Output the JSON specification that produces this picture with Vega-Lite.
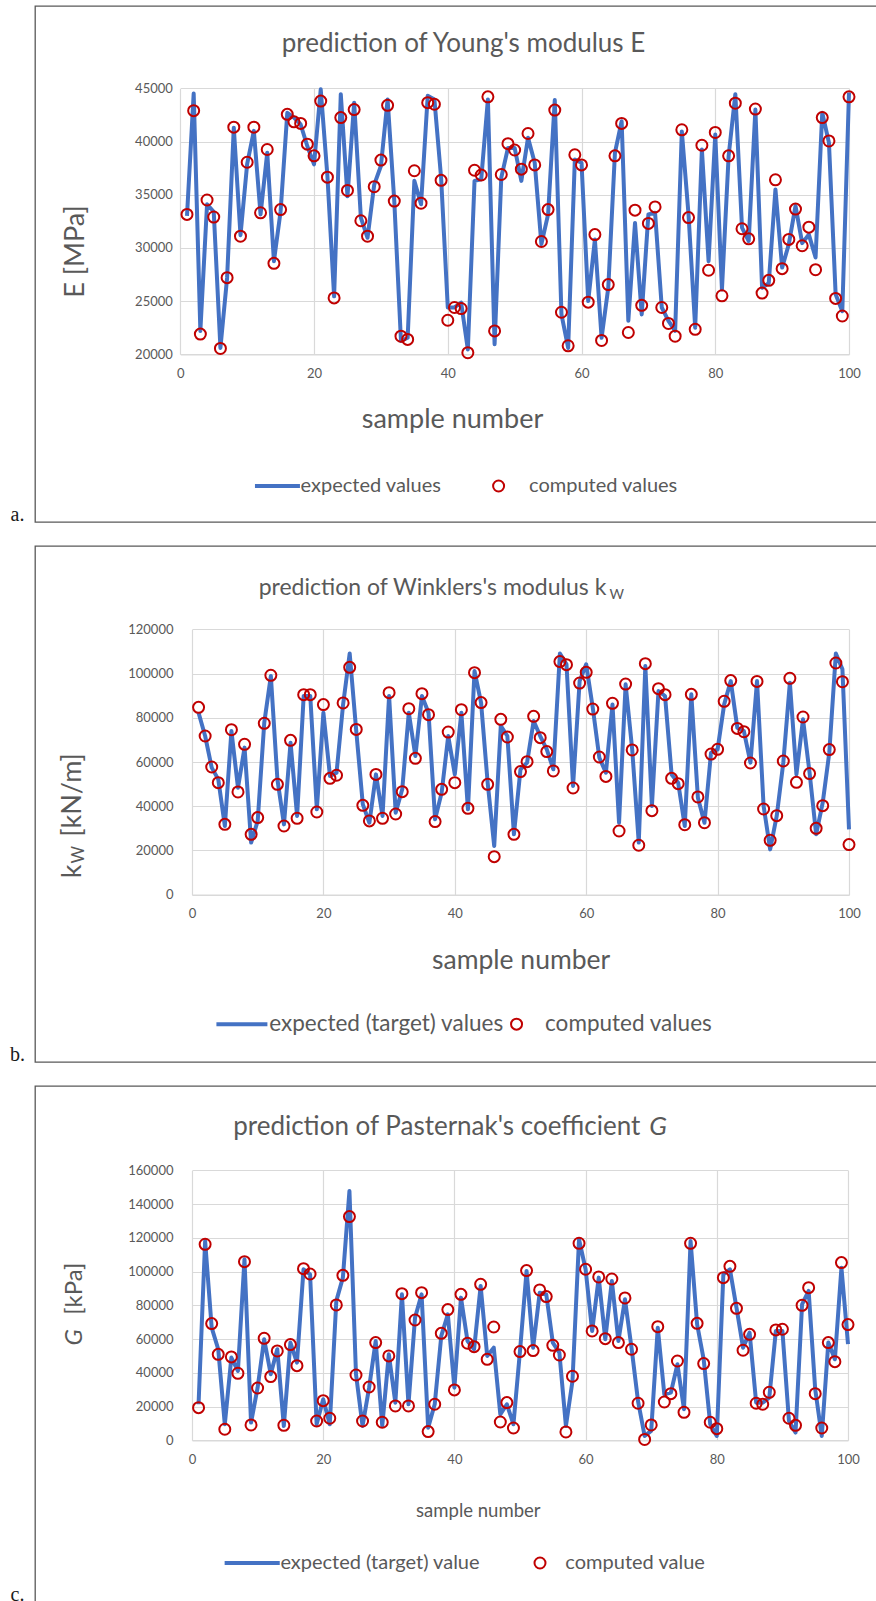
{
"$schema": "https://vega.github.io/schema/vega-lite/v6.json",
"padding": {"left": 8, "top": 5, "right": 0, "bottom": 0},
"bounds": "flush",
"spacing": 24,
"datasets": {
"a": [{"n":1,"e":33000,"c":33150},{"n":2,"e":44500,"c":42900},{"n":3,"e":22200,"c":21900},{"n":4,"e":34100,"c":34500},{"n":5,"e":33400,"c":32900},{"n":6,"e":20600,"c":20550},{"n":7,"e":27200,"c":27200},{"n":8,"e":41300,"c":41350},{"n":9,"e":31200,"c":31100},{"n":10,"e":37900,"c":38050},
{"n":11,"e":41000,"c":41350},{"n":12,"e":33150,"c":33300},{"n":13,"e":38950,"c":39250},{"n":14,"e":28750,"c":28550},{"n":15,"e":33450,"c":33600},{"n":16,"e":42700,"c":42550},{"n":17,"e":42250,"c":41850},{"n":18,"e":41600,"c":41700},{"n":19,"e":39550,"c":39750},{"n":20,"e":37850,"c":38650},
{"n":21,"e":44900,"c":43800},{"n":22,"e":36750,"c":36650},{"n":23,"e":25450,"c":25300},{"n":24,"e":44450,"c":42250},{"n":25,"e":34850,"c":35400},{"n":26,"e":43650,"c":43000},{"n":27,"e":32850,"c":32550},{"n":28,"e":30950,"c":31100},{"n":29,"e":35950,"c":35750},{"n":30,"e":37700,"c":38250},
{"n":31,"e":43950,"c":43400},{"n":32,"e":34400,"c":34400},{"n":33,"e":21250,"c":21700},{"n":34,"e":21550,"c":21400},{"n":35,"e":36300,"c":37250},{"n":36,"e":34100,"c":34200},{"n":37,"e":44300,"c":43650},{"n":38,"e":43950,"c":43500},{"n":39,"e":36600,"c":36350},{"n":40,"e":24400,"c":23200},
{"n":41,"e":24400,"c":24400},{"n":42,"e":24850,"c":24300},{"n":43,"e":20450,"c":20150},{"n":44,"e":36300,"c":37300},{"n":45,"e":36450,"c":36850},{"n":46,"e":43950,"c":44200},{"n":47,"e":20950,"c":22200},{"n":48,"e":36600,"c":36900},{"n":49,"e":39400,"c":39800},{"n":50,"e":39400,"c":39200},
{"n":51,"e":36300,"c":37400},{"n":52,"e":40350,"c":40750},{"n":53,"e":38000,"c":37800},{"n":54,"e":30350,"c":30600},{"n":55,"e":33150,"c":33600},{"n":56,"e":43900,"c":42950},{"n":57,"e":23750,"c":23950},{"n":58,"e":20600,"c":20800},{"n":59,"e":38300,"c":38750},{"n":60,"e":38000,"c":37800},
{"n":61,"e":25000,"c":24900},{"n":62,"e":30800,"c":31250},{"n":63,"e":21550,"c":21300},{"n":64,"e":26250,"c":26550},{"n":65,"e":38950,"c":38650},{"n":66,"e":41900,"c":41700},{"n":67,"e":23150,"c":22050},{"n":68,"e":32350,"c":33550},{"n":69,"e":23750,"c":24600},{"n":70,"e":33150,"c":32300},
{"n":71,"e":33300,"c":33850},{"n":72,"e":24400,"c":24400},{"n":73,"e":23150,"c":22900},{"n":74,"e":22200,"c":21700},{"n":75,"e":40950,"c":41100},{"n":76,"e":33150,"c":32850},{"n":77,"e":22500,"c":22350},{"n":78,"e":39250,"c":39650},{"n":79,"e":28750,"c":27900},{"n":80,"e":40650,"c":40850},
{"n":81,"e":26100,"c":25500},{"n":82,"e":38650,"c":38650},{"n":83,"e":44450,"c":43600},{"n":84,"e":31900,"c":31800},{"n":85,"e":30650,"c":30850},{"n":86,"e":43000,"c":43050},{"n":87,"e":26250,"c":25750},{"n":88,"e":26700,"c":26950},{"n":89,"e":35500,"c":36400},{"n":90,"e":28150,"c":28050},
{"n":91,"e":30350,"c":30800},{"n":92,"e":33950,"c":33650},{"n":93,"e":30450,"c":30200},{"n":94,"e":31250,"c":31950},{"n":95,"e":29100,"c":27950},{"n":96,"e":42700,"c":42250},{"n":97,"e":39900,"c":40050},{"n":98,"e":25650,"c":25250},{"n":99,"e":24050,"c":23600},{"n":100,"e":44600,"c":44200}],
"b": [{"n":1,"e":82300,"c":84700},{"n":2,"e":71750,"c":71750},{"n":3,"e":57450,"c":57750},{"n":4,"e":52150,"c":50650},{"n":5,"e":31050,"c":31800},{"n":6,"e":74000,"c":74600},{"n":7,"e":48400,"c":46450},{"n":8,"e":66500,"c":68000},{"n":9,"e":23550,"c":27300},{"n":10,"e":33350,"c":34850},
{"n":11,"e":77800,"c":77500},{"n":12,"e":98900,"c":99200},{"n":13,"e":52150,"c":49900},{"n":14,"e":31800,"c":31050},{"n":15,"e":68750,"c":69800},{"n":16,"e":35600,"c":34550},{"n":17,"e":89850,"c":90450},{"n":18,"e":89850,"c":90450},{"n":19,"e":38600,"c":37400},{"n":20,"e":82300,"c":85950},
{"n":21,"e":53650,"c":52600},{"n":22,"e":55150,"c":54000},{"n":23,"e":86050,"c":86700},{"n":24,"e":109100,"c":102800},{"n":25,"e":74000,"c":74750},{"n":26,"e":40850,"c":40400},{"n":27,"e":32550,"c":33350},{"n":28,"e":54400,"c":54400},{"n":29,"e":35600,"c":34550},{"n":30,"e":89850,"c":91350},
{"n":31,"e":37100,"c":36500},{"n":32,"e":47650,"c":46600},{"n":33,"e":82300,"c":84100},{"n":34,"e":62700,"c":61650},{"n":35,"e":89850,"c":90900},{"n":36,"e":82300,"c":81400},{"n":37,"e":34100,"c":33050},{"n":38,"e":46150,"c":47650},{"n":39,"e":71750,"c":73550},{"n":40,"e":54400,"c":50650},
{"n":41,"e":82300,"c":83650},{"n":42,"e":38600,"c":39050},{"n":43,"e":101150,"c":100400},{"n":44,"e":86800,"c":86850},{"n":45,"e":50650,"c":49900},{"n":46,"e":22050,"c":17200},{"n":47,"e":76300,"c":79300},{"n":48,"e":71750,"c":71300},{"n":49,"e":27300,"c":27300},{"n":50,"e":56700,"c":55650},
{"n":51,"e":59700,"c":60150},{"n":52,"e":78550,"c":80650},{"n":53,"e":71750,"c":71000},{"n":54,"e":65750,"c":64700},{"n":55,"e":56700,"c":55950},{"n":56,"e":109100,"c":105400},{"n":57,"e":104150,"c":104000},{"n":58,"e":49150,"c":48250},{"n":59,"e":96600,"c":95700},{"n":60,"e":104150,"c":100550},
{"n":61,"e":84550,"c":83950},{"n":62,"e":61950,"c":62250},{"n":63,"e":55150,"c":53500},{"n":64,"e":86050,"c":86550},{"n":65,"e":32550,"c":28800},{"n":66,"e":95100,"c":95250},{"n":67,"e":65700,"c":65450},{"n":68,"e":23550,"c":22350},{"n":69,"e":103400,"c":104450},{"n":70,"e":40100,"c":38000},
{"n":71,"e":92100,"c":93150},{"n":72,"e":89850,"c":90450},{"n":73,"e":54400,"c":52600},{"n":74,"e":50650,"c":50200},{"n":75,"e":31050,"c":31650},{"n":76,"e":90600,"c":90600},{"n":77,"e":43850,"c":44200},{"n":78,"e":32550,"c":32550},{"n":79,"e":64200,"c":63600},{"n":80,"e":65700,"c":65750},
{"n":81,"e":86050,"c":87450},{"n":82,"e":96600,"c":96800},{"n":83,"e":75550,"c":75200},{"n":84,"e":74000,"c":73700},{"n":85,"e":59700,"c":59550},{"n":86,"e":96600,"c":96450},{"n":87,"e":40100,"c":38750},{"n":88,"e":20500,"c":24600},{"n":89,"e":35600,"c":35750},{"n":90,"e":59700,"c":60450},
{"n":91,"e":95850,"c":97850},{"n":92,"e":54400,"c":50800},{"n":93,"e":79300,"c":80350},{"n":94,"e":55150,"c":54750},{"n":95,"e":27300,"c":30000},{"n":96,"e":41600,"c":40250},{"n":97,"e":64200,"c":65600},{"n":98,"e":109100,"c":104750},{"n":99,"e":101900,"c":96300},{"n":100,"e":29500,"c":22650}],
"c": [{"n":1,"e":21350,"c":19350},{"n":2,"e":118100,"c":116150},{"n":3,"e":66750,"c":69150},{"n":4,"e":53950,"c":50950},{"n":5,"e":9500,"c":6550},{"n":6,"e":49000,"c":49400},{"n":7,"e":41100,"c":39700},{"n":8,"e":107250,"c":105850},{"n":9,"e":10500,"c":9100},{"n":10,"e":31200,"c":31000},
{"n":11,"e":59850,"c":60450},{"n":12,"e":39150,"c":37750},{"n":13,"e":53950,"c":52950},{"n":14,"e":8500,"c":8900},{"n":15,"e":57900,"c":56700},{"n":16,"e":46050,"c":44250},{"n":17,"e":101350,"c":101700},{"n":18,"e":98350,"c":98550},{"n":19,"e":9500,"c":11450},{"n":20,"e":24300,"c":23500},
{"n":21,"e":9500,"c":13050},{"n":22,"e":82600,"c":80200},{"n":23,"e":96400,"c":97750},{"n":24,"e":147750,"c":132550},{"n":25,"e":39150,"c":38700},{"n":26,"e":8500,"c":11450},{"n":27,"e":31200,"c":31600},{"n":28,"e":58850,"c":57900},{"n":29,"e":8500,"c":10700},{"n":30,"e":50950,"c":50000},
{"n":31,"e":22300,"c":20350},{"n":32,"e":86500,"c":86900},{"n":33,"e":21350,"c":20350},{"n":34,"e":72700,"c":71300},{"n":35,"e":86500,"c":87500},{"n":36,"e":7500,"c":5150},{"n":37,"e":21350,"c":21350},{"n":38,"e":61850,"c":63400},{"n":39,"e":74650,"c":77450},{"n":40,"e":31200,"c":29850},
{"n":41,"e":84550,"c":86500},{"n":42,"e":58850,"c":57500},{"n":43,"e":53950,"c":55500},{"n":44,"e":91450,"c":92450},{"n":45,"e":50000,"c":48000},{"n":46,"e":54900,"c":67150},{"n":47,"e":15400,"c":10850},{"n":48,"e":21350,"c":22350},{"n":49,"e":9500,"c":7300},{"n":50,"e":52950,"c":52550},
{"n":51,"e":100350,"c":100550},{"n":52,"e":54900,"c":53150},{"n":53,"e":87500,"c":89100},{"n":54,"e":86500,"c":85150},{"n":55,"e":57900,"c":56300},{"n":56,"e":51950,"c":50550},{"n":57,"e":8500,"c":4950},{"n":58,"e":35150,"c":37950},{"n":59,"e":119100,"c":116750},{"n":60,"e":101350,"c":101350},
{"n":61,"e":64800,"c":64800},{"n":62,"e":96400,"c":96800},{"n":63,"e":59850,"c":60250},{"n":64,"e":94400,"c":95600},{"n":65,"e":58850,"c":57900},{"n":66,"e":83550,"c":84350},{"n":67,"e":54900,"c":53950},{"n":68,"e":23000,"c":21950},{"n":69,"e":2600,"c":500},{"n":70,"e":5550,"c":9100},
{"n":71,"e":66750,"c":67350},{"n":72,"e":27250,"c":22700},{"n":73,"e":28250,"c":27650},{"n":74,"e":45050,"c":47000},{"n":75,"e":18400,"c":16600},{"n":76,"e":118100,"c":116750},{"n":77,"e":68750,"c":69300},{"n":78,"e":48000,"c":45450},{"n":79,"e":9500,"c":10700},{"n":80,"e":2600,"c":6900},
{"n":81,"e":98350,"c":96400},{"n":82,"e":101350,"c":103100},{"n":83,"e":78600,"c":78200},{"n":84,"e":54900,"c":53350},{"n":85,"e":63800,"c":62800},{"n":86,"e":22300,"c":21950},{"n":87,"e":22300,"c":21350},{"n":88,"e":25300,"c":28450},{"n":89,"e":64800,"c":65400},{"n":90,"e":64800,"c":65800},
{"n":91,"e":11500,"c":13050},{"n":92,"e":4550,"c":8900},{"n":93,"e":80600,"c":80000},{"n":94,"e":88500,"c":90450},{"n":95,"e":30200,"c":27650},{"n":96,"e":2600,"c":7300},{"n":97,"e":57900,"c":57900},{"n":98,"e":48000,"c":46600},{"n":99,"e":102300,"c":105300},{"n":100,"e":57000,"c":68550}]
},
"vconcat": [
{
 "width": 842, "height": 516,
 "data": {"name": "a"},
 "title": {"text": "prediction of Young's modulus E", "frame": "group", "anchor": "start", "align": "center", "dx": 428.5, "offset": -51, "fontSize": 26},
 "layer": [
  {"mark": {"type": "line", "strokeWidth": 4, "strokeJoin": "round"},
   "encoding": {
    "x": {"field": "n", "type": "quantitative", "scale": {"domain": [0, 100], "range": [145.3, 814], "nice": false, "zero": false},
      "axis": {"orient": "bottom", "offset": -167.7, "values": [0, 20, 40, 60, 80, 100], "grid": false, "domain": true, "labelPadding": 13, "title": "sample number", "titleFontSize": 27, "titleX": 417, "titleY": 65, "titleAlign": "center", "titleBaseline": "middle"}},
    "y": {"field": "e", "type": "quantitative", "scale": {"domain": [20000, 45000], "range": [348.3, 82.3], "nice": false, "zero": false},
      "axis": {"orient": "left", "offset": -145.3, "values": [20000, 25000, 30000, 35000, 40000, 45000], "format": "d", "grid": false, "domain": false, "labelPadding": 8, "title": "E [MPa]", "titleFontSize": 27, "titleX": -105, "titleY": 245, "titleAngle": -90, "titleAlign": "center", "titleBaseline": "middle"}},
    "color": {"datum": "expected values", "scale": {"domain": ["expected values", "computed values"], "range": ["#4472C4", "#C00000"]},
      "legend": {"title": null, "orient": "none", "legendX": 245.6, "legendY": 470, "direction": "horizontal", "labelOffset": 0, "columnPadding": 47, "padding": 0, "labelLimit": 600, "symbolSize": 121, "labelExpr": "datum.value === 'computed values' ? '\u200b\u00a0\u00a0\u00a0\u00a0' + datum.label : datum.label"}}
   }},
  {"mark": {"type": "point", "filled": false, "opacity": 1, "size": 121},
   "encoding": {
    "x": {"field": "n", "type": "quantitative",
      "axis": {"orient": "top", "offset": 0, "values": [0, 20, 40, 60, 80, 100], "grid": true, "labels": false, "domain": false, "ticks": false, "title": "a.", "titleFont": "Liberation Serif", "titleFontSize": 20, "titleColor": "#1a1a1a", "titleX": -18, "titleY": 514, "titleAlign": "center", "titleBaseline": "alphabetic", "titleAngle": 0}},
    "y": {"field": "c", "type": "quantitative",
      "axis": {"orient": "left", "offset": 0, "values": [20000, 25000, 30000, 35000, 40000, 45000], "grid": true, "labels": false, "domain": false, "ticks": false, "title": null}},
    "color": {"datum": "computed values", "legend": {"title": null, "orient": "none", "legendX": 245.6, "legendY": 470, "direction": "horizontal", "labelOffset": 0, "columnPadding": 47, "padding": 0, "labelLimit": 600, "symbolSize": 121, "labelExpr": "datum.value === 'computed values' ? '\u200b\u00a0\u00a0\u00a0\u00a0' + datum.label : datum.label"}},
    "shape": {"datum": "computed values", "scale": {"domain": ["expected values", "computed values"], "range": ["M-6.48,0H1.7", "circle"]},
      "legend": {"title": null, "orient": "none", "legendX": 245.6, "legendY": 470, "direction": "horizontal", "labelOffset": 0, "columnPadding": 47, "padding": 0, "labelLimit": 600, "symbolSize": 121, "labelExpr": "datum.value === 'computed values' ? '\u200b\u00a0\u00a0\u00a0\u00a0' + datum.label : datum.label"}},
    "strokeWidth": {"datum": "computed values", "scale": {"type": "ordinal", "domain": ["expected values", "computed values"], "range": [4, 2]},
      "legend": {"title": null, "orient": "none", "legendX": 245.6, "legendY": 470, "direction": "horizontal", "labelOffset": 0, "columnPadding": 47, "padding": 0, "labelLimit": 600, "symbolSize": 121, "labelExpr": "datum.value === 'computed values' ? '\u200b\u00a0\u00a0\u00a0\u00a0' + datum.label : datum.label"}}
   }}
 ],
 "resolve": {"axis": {"x": "independent", "y": "independent"}}
},
{
 "width": 842, "height": 516,
 "data": {"name": "b"},
 "title": {"text": "prediction of Winklers's modulus k\u00a0\u00a0\u00a0\u200b", "subtitle": "W", "subtitleFontSize": 14, "subtitlePadding": -12, "frame": "group", "anchor": "start", "align": "right", "dx": 589, "offset": -55.5, "fontSize": 23},
 "layer": [
  {"mark": {"type": "line", "strokeWidth": 4, "strokeJoin": "round"},
   "encoding": {
    "x": {"field": "n", "type": "quantitative", "scale": {"domain": [0, 100], "range": [157, 814], "nice": false, "zero": false},
      "axis": {"orient": "bottom", "offset": -167.3, "values": [0, 20, 40, 60, 80, 100], "grid": false, "domain": true, "labelPadding": 13, "title": "sample number", "titleFontSize": 26.5, "titleX": 485.6, "titleY": 66, "titleAlign": "center", "titleBaseline": "middle"}},
    "y": {"field": "e", "type": "quantitative", "scale": {"domain": [0, 120000], "range": [348.7, 83.3], "nice": false, "zero": false},
      "axis": {"orient": "left", "offset": -157, "values": [0, 20000, 40000, 60000, 80000, 100000, 120000], "format": "d", "grid": false, "domain": false, "labelPadding": 19, "title": "k\u00a0\u00a0\u00a0\u00a0[kN/m]", "titleFontSize": 27, "titleX": -120, "titleY": 331.7, "titleAngle": -90, "titleAlign": "left", "titleBaseline": "middle"}},
    "color": {"datum": "expected (target) values", "scale": {"domain": ["expected (target) values", "computed values"], "range": ["#4472C4", "#C00000"]},
      "legend": {"title": null, "orient": "none", "legendX": 211.8, "legendY": 466.8, "direction": "horizontal", "labelOffset": 0, "columnPadding": 1.5, "padding": 0, "labelLimit": 600, "symbolSize": 121, "labelFontSize": 22.5, "labelExpr": "datum.value === 'computed values' ? '\u200b\u00a0\u00a0\u00a0' + datum.label : datum.label"}}
   }},
  {"mark": {"type": "point", "filled": false, "opacity": 1, "size": 121},
   "encoding": {
    "x": {"field": "n", "type": "quantitative",
      "axis": {"orient": "top", "offset": 0, "values": [0, 20, 40, 60, 80, 100], "grid": true, "labels": false, "domain": false, "ticks": false, "title": "b.", "titleFont": "Liberation Serif", "titleFontSize": 20, "titleColor": "#1a1a1a", "titleX": -18, "titleY": 514, "titleAlign": "center", "titleBaseline": "alphabetic", "titleAngle": 0}},
    "y": {"field": "c", "type": "quantitative",
      "axis": {"orient": "left", "offset": 0, "values": [0, 20000, 40000, 60000, 80000, 100000, 120000], "grid": true, "labels": false, "domain": false, "ticks": false, "title": "W", "titleFontSize": 17, "titleX": 43, "titleY": 317, "titleAngle": -90, "titleAlign": "left", "titleBaseline": "middle"}},
    "color": {"datum": "computed values", "legend": {"title": null, "orient": "none", "legendX": 211.8, "legendY": 466.8, "direction": "horizontal", "labelOffset": 0, "columnPadding": 1.5, "padding": 0, "labelLimit": 600, "symbolSize": 121, "labelFontSize": 22.5, "labelExpr": "datum.value === 'computed values' ? '\u200b\u00a0\u00a0\u00a0' + datum.label : datum.label"}},
    "shape": {"datum": "computed values", "scale": {"domain": ["expected (target) values", "computed values"], "range": ["M-7.57,0H1.7", "circle"]},
      "legend": {"title": null, "orient": "none", "legendX": 211.8, "legendY": 466.8, "direction": "horizontal", "labelOffset": 0, "columnPadding": 1.5, "padding": 0, "labelLimit": 600, "symbolSize": 121, "labelFontSize": 22.5, "labelExpr": "datum.value === 'computed values' ? '\u200b\u00a0\u00a0\u00a0' + datum.label : datum.label"}},
    "strokeWidth": {"datum": "computed values", "scale": {"type": "ordinal", "domain": ["expected (target) values", "computed values"], "range": [4, 2]},
      "legend": {"title": null, "orient": "none", "legendX": 211.8, "legendY": 466.8, "direction": "horizontal", "labelOffset": 0, "columnPadding": 1.5, "padding": 0, "labelLimit": 600, "symbolSize": 121, "labelFontSize": 22.5, "labelExpr": "datum.value === 'computed values' ? '\u200b\u00a0\u00a0\u00a0' + datum.label : datum.label"}}
   }}
 ],
 "resolve": {"axis": {"x": "independent", "y": "independent"}}
},
{
 "width": 842, "height": 516,
 "data": {"name": "c"},
 "title": {"text": "prediction of Pasternak's coefficient\u00a0\u00a0\u00a0\u00a0\u200b", "subtitle": "G", "subtitleFontSize": 26, "subtitleFontStyle": "italic", "subtitlePadding": -26, "frame": "group", "anchor": "start", "align": "right", "dx": 632, "offset": -53.5, "fontSize": 26},
 "layer": [
  {"mark": {"type": "line", "strokeWidth": 4, "strokeJoin": "round"},
   "encoding": {
    "x": {"field": "n", "type": "quantitative", "scale": {"domain": [0, 100], "range": [157, 813], "nice": false, "zero": false},
      "axis": {"orient": "bottom", "offset": -161.7, "values": [0, 20, 40, 60, 80, 100], "grid": false, "domain": true, "labelPadding": 13, "title": "sample number", "titleFontSize": 18.5, "titleX": 442.8, "titleY": 69.7, "titleAlign": "center", "titleBaseline": "middle"}},
    "y": {"field": "e", "type": "quantitative", "scale": {"domain": [0, 160000], "range": [354.3, 84.3], "nice": false, "zero": false},
      "axis": {"orient": "left", "offset": -157, "values": [0, 20000, 40000, 60000, 80000, 100000, 120000, 140000, 160000], "format": "d", "grid": false, "domain": false, "labelPadding": 19, "title": "\u200b\u00a0\u00a0\u00a0\u00a0\u00a0[kPa]", "titleFontSize": 24, "titleX": -117.6, "titleY": 259, "titleAngle": -90, "titleAlign": "left", "titleBaseline": "middle"}},
    "color": {"datum": "expected (target) value", "scale": {"domain": ["expected (target) value", "computed value"], "range": ["#4472C4", "#C00000"]},
      "legend": {"title": null, "orient": "none", "legendX": 225.4, "legendY": 467, "direction": "horizontal", "labelOffset": 0, "columnPadding": 49.6, "padding": 0, "labelLimit": 600, "symbolSize": 121, "labelExpr": "datum.value === 'computed value' ? '\u200b\u00a0\u00a0\u00a0' + datum.label : datum.label"}}
   }},
  {"mark": {"type": "point", "filled": false, "opacity": 1, "size": 121},
   "encoding": {
    "x": {"field": "n", "type": "quantitative",
      "axis": {"orient": "top", "offset": 0, "values": [0, 20, 40, 60, 80, 100], "grid": true, "labels": false, "domain": false, "ticks": false, "title": "c.", "titleFont": "Liberation Serif", "titleFontSize": 20, "titleColor": "#1a1a1a", "titleX": -18, "titleY": 514, "titleAlign": "center", "titleBaseline": "alphabetic", "titleAngle": 0}},
    "y": {"field": "c", "type": "quantitative",
      "axis": {"orient": "left", "offset": 0, "values": [0, 20000, 40000, 60000, 80000, 100000, 120000, 140000, 160000], "grid": true, "labels": false, "domain": false, "ticks": false, "title": "G", "titleFontStyle": "italic", "titleFontSize": 24, "titleX": 39.4, "titleY": 259, "titleAngle": -90, "titleAlign": "left", "titleBaseline": "middle"}},
    "color": {"datum": "computed value", "legend": {"title": null, "orient": "none", "legendX": 225.4, "legendY": 467, "direction": "horizontal", "labelOffset": 0, "columnPadding": 49.6, "padding": 0, "labelLimit": 600, "symbolSize": 121, "labelExpr": "datum.value === 'computed value' ? '\u200b\u00a0\u00a0\u00a0' + datum.label : datum.label"}},
    "shape": {"datum": "computed value", "scale": {"domain": ["expected (target) value", "computed value"], "range": ["M-8.32,0H1.7", "circle"]},
      "legend": {"title": null, "orient": "none", "legendX": 225.4, "legendY": 467, "direction": "horizontal", "labelOffset": 0, "columnPadding": 49.6, "padding": 0, "labelLimit": 600, "symbolSize": 121, "labelExpr": "datum.value === 'computed value' ? '\u200b\u00a0\u00a0\u00a0' + datum.label : datum.label"}},
    "strokeWidth": {"datum": "computed value", "scale": {"type": "ordinal", "domain": ["expected (target) value", "computed value"], "range": [4, 2]},
      "legend": {"title": null, "orient": "none", "legendX": 225.4, "legendY": 467, "direction": "horizontal", "labelOffset": 0, "columnPadding": 49.6, "padding": 0, "labelLimit": 600, "symbolSize": 121, "labelExpr": "datum.value === 'computed value' ? '\u200b\u00a0\u00a0\u00a0' + datum.label : datum.label"}}
   }}
 ],
 "resolve": {"axis": {"x": "independent", "y": "independent"}}
}
],
"resolve": {"scale": {"color": "independent", "shape": "independent", "strokeWidth": "independent"}},
"config": {
 "font": "Lato",
 "view": {"stroke": "#595959", "strokeWidth": 1.3},
 "axis": {"ticks": false, "gridColor": "#D9D9D9", "gridWidth": 1.2, "domainColor": "#D9D9D9", "domainWidth": 1.2, "labelFont": "Lato", "labelFontSize": 13, "labelColor": "#595959", "labelFlush": false, "labelOverlap": false, "titleFont": "Lato", "titleColor": "#595959", "titleFontWeight": "normal"},
 "legend": {"labelFont": "Lato", "labelColor": "#595959", "labelFontSize": 20},
 "title": {"font": "Lato", "color": "#595959", "fontWeight": "normal", "fontSize": 26, "subtitleFont": "Lato", "subtitleColor": "#595959"}
}
}
